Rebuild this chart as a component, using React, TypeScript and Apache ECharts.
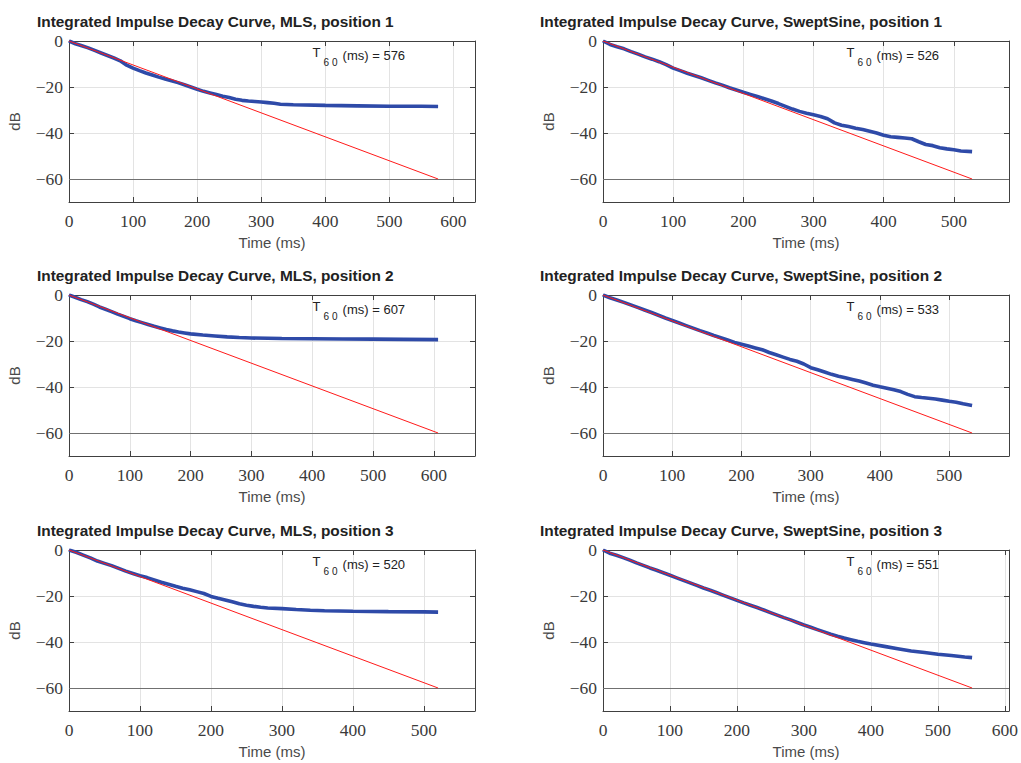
import React, { useEffect, useRef } from "react";
import * as echarts from "echarts";

// ---------------- data ----------------
const panelTitles = [
  "Integrated Impulse Decay Curve, MLS, position 1",
  "Integrated Impulse Decay Curve, SweptSine, position 1",
  "Integrated Impulse Decay Curve, MLS, position 2",
  "Integrated Impulse Decay Curve, SweptSine, position 2",
  "Integrated Impulse Decay Curve, MLS, position 3",
  "Integrated Impulse Decay Curve, SweptSine, position 3",
];
const t60Values = [576, 526, 607, 533, 520, 551];
const xTickValues = [0, 100, 200, 300, 400, 500, 600];
const yTickValues = [0, -20, -40, -60];
const xTickStep = 100;
const yTickStep = 20;
const yMin = -70;
const yMax = 0;
const floorDb = -60;

const mls1Time = [0, 10, 20, 30, 40, 50, 60, 70, 80, 85, 90, 100, 110, 120, 130, 140, 150, 160, 170, 180, 190, 200, 210, 220, 230, 240, 250, 260, 270, 280, 290, 300, 310, 320, 330, 350, 400, 450, 500, 550, 576];
const mls1Db = [0, -1.2, -2.1, -3.0, -4.1, -5.2, -6.3, -7.4, -8.6, -9.6, -10.5, -11.8, -12.9, -13.9, -14.8, -15.7, -16.5, -17.3, -18.1, -19.0, -20.0, -21.0, -21.9, -22.6, -23.3, -24.0, -24.6, -25.3, -25.8, -26.1, -26.3, -26.5, -26.8, -27.1, -27.5, -27.7, -28.0, -28.2, -28.4, -28.4, -28.5];

const ss1Time = [0, 10, 20, 30, 40, 50, 60, 70, 80, 90, 100, 110, 120, 130, 140, 150, 160, 170, 180, 190, 200, 210, 220, 230, 240, 250, 260, 270, 280, 290, 300, 310, 320, 330, 340, 350, 360, 370, 380, 390, 400, 410, 420, 430, 440, 450, 460, 470, 480, 490, 500, 510, 526];
const ss1Db = [0, -1.5, -2.5, -3.4, -4.6, -5.7, -6.9, -7.9, -9.0, -10.3, -11.8, -12.9, -14.0, -15.0, -16.0, -17.1, -18.2, -19.2, -20.3, -21.3, -22.3, -23.2, -24.1, -25.1, -26.1, -27.2, -28.4, -29.6, -30.6, -31.4, -32.1, -32.8, -33.8, -35.6, -36.6, -37.2, -37.9, -38.5, -39.2, -40.0, -41.0, -41.6, -41.9, -42.2, -42.5, -43.8, -45.0, -45.5, -46.4, -46.9, -47.3, -47.8, -48.1];

const mls2Time = [0, 10, 20, 30, 40, 50, 60, 70, 80, 90, 100, 110, 120, 130, 140, 150, 160, 170, 180, 190, 200, 220, 240, 260, 280, 300, 350, 400, 450, 500, 550, 607];
const mls2Db = [0, -1.0, -2.0, -2.9, -4.0, -5.2, -6.2, -7.2, -8.3, -9.3, -10.3, -11.2, -12.0, -12.8, -13.6, -14.3, -15.0, -15.6, -16.1, -16.5, -16.9, -17.4, -17.8, -18.2, -18.5, -18.7, -18.9, -19.0, -19.1, -19.2, -19.3, -19.4];

const ss2Time = [0, 10, 20, 30, 40, 50, 60, 70, 80, 90, 100, 110, 120, 130, 140, 150, 160, 170, 180, 190, 200, 210, 220, 230, 240, 250, 260, 270, 280, 290, 300, 310, 320, 330, 340, 350, 360, 370, 380, 390, 400, 410, 420, 430, 440, 450, 460, 470, 480, 490, 500, 510, 520, 533];
const ss2Db = [0, -1.2, -2.2, -3.2, -4.3, -5.4, -6.5, -7.6, -8.8, -10.0, -11.1, -12.2, -13.3, -14.4, -15.5, -16.5, -17.6, -18.6, -19.6, -20.6, -21.4, -22.2, -23.0, -23.8, -25.0, -26.0, -27.0, -28.0, -28.8, -30.0, -31.6, -32.5, -33.5, -34.5, -35.3, -36.0, -36.7, -37.4, -38.3, -39.2, -39.9, -40.5, -41.2, -42.0, -43.2, -44.2, -44.6, -44.9, -45.2, -45.7, -46.2, -46.6, -47.3, -48.0];

const mls3Time = [0, 10, 20, 30, 40, 50, 60, 70, 80, 90, 100, 110, 120, 130, 140, 150, 160, 170, 180, 190, 200, 210, 220, 230, 240, 250, 260, 270, 280, 300, 320, 340, 360, 400, 450, 500, 520];
const mls3Db = [0, -1.0, -2.2, -3.4, -4.8, -5.8, -6.8, -8.0, -9.2, -10.2, -11.2, -12.0, -13.0, -14.0, -14.9, -15.8, -16.6, -17.3, -18.1, -18.9, -20.2, -21.0, -21.7, -22.5, -23.4, -24.0, -24.5, -24.9, -25.2, -25.5, -25.9, -26.2, -26.4, -26.6, -26.8, -26.9, -27.0];

const ss3Time = [0, 10, 20, 30, 40, 50, 60, 70, 80, 90, 100, 110, 120, 130, 140, 150, 160, 170, 180, 190, 200, 210, 220, 230, 240, 250, 260, 270, 280, 290, 300, 310, 320, 330, 340, 350, 360, 370, 380, 390, 400, 420, 440, 460, 480, 500, 520, 540, 551];
const ss3Db = [0, -1.4, -2.3, -3.3, -4.4, -5.6, -6.7, -7.8, -8.8, -9.9, -11.0, -12.1, -13.2, -14.3, -15.4, -16.5, -17.5, -18.6, -19.7, -20.8, -21.9, -23.0, -24.0, -25.0, -26.1, -27.2, -28.3, -29.4, -30.4, -31.5, -32.6, -33.6, -34.6, -35.6, -36.6, -37.5, -38.3, -39.0, -39.7, -40.3, -40.9, -41.9, -42.9, -43.9, -44.6, -45.3, -45.9, -46.5, -46.8];

const curveTimes = [mls1Time, ss1Time, mls2Time, ss2Time, mls3Time, ss3Time];
const curveDbs = [mls1Db, ss1Db, mls2Db, ss2Db, mls3Db, ss3Db];

// ---------------- layout / style ----------------
const W = 1021;
const H = 763;
const colLeft = [69, 603];
const titleLeft = [32, 535];
const rowTop = [41, 295, 550];
const plotW = 406;
const plotH = 161;

const SANS = "Liberation Sans";
const SERIF = "Liberation Serif";
const FRAME = "#404040";
const GRIDC = "#e3e3e3";
const LABELC = "#3a3a3a";
const BLUE = "#2e4aa8";
const RED = "#ff1a1a";

const fmtNum = (v: number) => (v < 0 ? "\u2212" + Math.abs(v) : String(v));

function mkLine() {
  return { show: true, onZero: false, lineStyle: { color: FRAME, width: 1 } };
}
function mkTick() {
  return { show: true, inside: true, length: 5, lineStyle: { color: FRAME, width: 1 } };
}

function buildOption() {
  const grid: any[] = [];
  const xAxis: any[] = [];
  const yAxis: any[] = [];
  const series: any[] = [];
  const title: any[] = [];

  for (let i = 0; i < 6; i++) {
    const row = Math.floor(i / 2);
    const col = i % 2;
    const t60 = t60Values[i];
    const xMax = t60 * 1.1;
    grid.push({ left: colLeft[col], top: rowTop[row], width: plotW, height: plotH, containLabel: false });
    title.push({
      text: panelTitles[i],
      left: titleLeft[col],
      top: rowTop[row] - 32,
      textStyle: { fontFamily: SANS, fontWeight: "bold", fontSize: 15.4, color: "#222222" },
    });
    const xBase = {
      type: "value",
      gridIndex: i,
      min: 0,
      max: xMax,
      minInterval: xTickStep,
      maxInterval: xTickStep,
      splitNumber: 6,
    };
    const yBase = {
      type: "value",
      gridIndex: i,
      min: yMin,
      max: yMax,
      minInterval: yTickStep,
      maxInterval: yTickStep,
      splitNumber: 4,
    };
    xAxis.push({
      ...xBase,
      position: "bottom",
      axisLine: mkLine(),
      axisTick: mkTick(),
      axisLabel: { show: false },
      splitLine: { show: true, lineStyle: { color: GRIDC, width: 1 } },
      name: "Time (ms)",
      nameLocation: "middle",
      nameGap: 33,
      nameTextStyle: { fontFamily: SANS, fontSize: 15, color: "#4a4a4a" },
    });
    xAxis.push({
      ...xBase,
      position: "top",
      axisLine: mkLine(),
      axisTick: mkTick(),
      axisLabel: { show: false },
      splitLine: { show: false },
    });
    yAxis.push({
      ...yBase,
      position: "left",
      axisLine: mkLine(),
      axisTick: mkTick(),
      axisLabel: { show: false },
      splitLine: { show: true, lineStyle: { color: GRIDC, width: 1 } },
      name: "dB",
      nameLocation: "middle",
      nameGap: 47,
      nameRotate: 90,
      nameTextStyle: { fontFamily: SANS, fontSize: 15, color: "#4a4a4a" },
    });
    yAxis.push({
      ...yBase,
      position: "right",
      axisLine: mkLine(),
      axisTick: mkTick(),
      axisLabel: { show: false },
      splitLine: { show: false },
    });

    const times = curveTimes[i];
    const dbs = curveDbs[i];
    series.push({
      type: "line",
      xAxisIndex: 2 * i,
      yAxisIndex: 2 * i,
      data: times.map((t, k) => [t, dbs[k]]),
      showSymbol: false,
      symbol: "none",
      lineStyle: { color: BLUE, width: 3.6 },
      z: 3,
      silent: true,
    });
    series.push({
      type: "line",
      xAxisIndex: 2 * i,
      yAxisIndex: 2 * i,
      data: [
        [0, 0],
        [t60, floorDb],
      ],
      showSymbol: false,
      symbol: "none",
      lineStyle: { color: RED, width: 1 },
      z: 4,
      silent: true,
      markLine: {
        silent: true,
        symbol: ["none", "none"],
        label: { show: false },
        lineStyle: { color: "#707070", width: 1, type: "solid" },
        data: [{ yAxis: floorDb }],
        z: 2,
      },
    });
  }

  return { animation: false, backgroundColor: "#ffffff", title, grid, xAxis, yAxis, series };
}

function txt(text: string, x: number, y: number, font: string, size: number, fill: string, align: string, valign: string) {
  return {
    type: "text",
    x,
    y,
    silent: true,
    style: { text, fontFamily: font, fontSize: size, fill, align, verticalAlign: valign, textAlign: align, textVerticalAlign: valign },
  };
}

export default function App() {
  const ref = useRef<HTMLDivElement>(null);
  useEffect(() => {
    document.body.style.margin = "0";
    if (!ref.current) return;
    const chart = echarts.init(ref.current, undefined, { renderer: "svg", width: W, height: H });
    chart.setOption(buildOption());

    // tick labels and T60 annotations, placed through each panel's own scales
    const graphic: any[] = [];
    for (let i = 0; i < 6; i++) {
      const finder: any = { xAxisIndex: 2 * i, yAxisIndex: 2 * i };
      const t60 = t60Values[i];
      const xMax = t60 * 1.1;
      xTickValues
        .filter((v) => v <= xMax)
        .forEach((v) => {
          const p = chart.convertToPixel(finder, [v, yMin]) as number[];
          graphic.push(txt(fmtNum(v), p[0], p[1] + 19, SERIF, 17.5, LABELC, "center", "middle"));
        });
      yTickValues.forEach((v) => {
        const p = chart.convertToPixel(finder, [0, v]) as number[];
        graphic.push(txt(fmtNum(v), p[0] - 6, p[1], SERIF, 17.5, LABELC, "right", "middle"));
      });
      const a = chart.convertToPixel(finder, [t60 * 0.66, -5.2]) as number[];
      graphic.push(txt("T", a[0], a[1], SANS, 13, "#222222", "left", "middle"));
      graphic.push(txt("6 0", a[0] + 11, a[1] + 10, SANS, 10, "#222222", "left", "middle"));
      graphic.push(txt("(ms) = " + t60, a[0] + 30, a[1] + 3, SANS, 13, "#222222", "left", "middle"));
    }
    chart.setOption({ graphic });

    return () => chart.dispose();
  }, []);
  return <div ref={ref} style={{ width: W, height: H }} />;
}
